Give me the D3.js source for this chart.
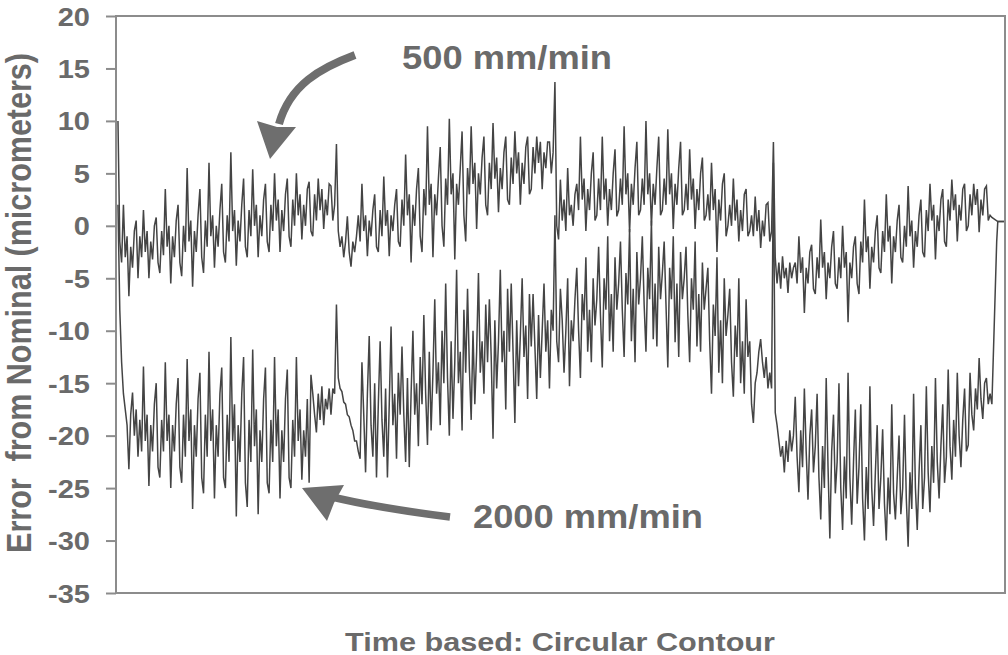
<!DOCTYPE html>
<html>
<head>
<meta charset="utf-8">
<script src="https://cdn.jsdelivr.net/npm/d3@7"></script>
<style>
  body { margin: 0; background: #fff; }
  svg { display: block; font-family: 'Liberation Sans', Arial, sans-serif; font-weight: bold; }
</style>
</head>
<body>
<svg class="contour-svg" width="1008" height="655"></svg>
<script>
// tick values of the error axis, micrometers
const yTicks = [20, 15, 10, 5, 0, -5, -10, -15, -20, -25, -30, -35]

// 500 mm/min, error, one array per quarter of the circle
const err500Q1 = [
  10, -1.5, -3.5, 2, -3, -1, -6.7, -2, -4, -0.5, 0.5, -5,
  -1, -3, 1.5, -2.5, -0.5, -5, -1.5, -3.2, 0, 0.8, -3.5, -4.5,
  -0.5, -2.8, 3.5, -2, 0, -5.5, -1, -3, 0.5, 2, -3.5, -4.8,
  0, -2.5, 5.5, -1.5, 0.5, -5.8, -0.5, -2.5, 1, 3.5, -3, -4.5,
  0.5, -2, 6, -1, 1, -4, 0, -2, 1.5, 4, -2.5, -3.5,
  1, -1.5, 7, -0.5, 1.5, -3.8, 0.5, -1.5, 2, 4.5, -2, -3,
  1.5, -1, 5.4, 0, 2, -3, 1, -1, 2.5, 4, -1.5, -2.5,
  2, -0.5, 5, 0.5, 2.5, -2.5, 1.5, -0.5, 3, 4.5, -1, -2,
  2.5, 0, 5, 1, 3, -1.3, 2, 0, 3.5, 4.2, -0.5, -1,
  3, 0.5, 4.5, 1.5, 3.5, -0.3, 2.5, 1, 4, 3.8, 0.5, 2]
const err500Q2 = [
  7.8, -0.5, -2, -1, -3, -1.5, 0.9, -2.5, -3.9, -1.5, -2.5, -1,
  1, -1.5, 4, -0.5, 1, -2.9, 0.5, -1, 1.5, 3, -2, -2.5,
  1.5, -1, 4.7, 0, 1.5, -2.9, 1, -0.5, 2, 3.5, -1.5, -2,
  2.5, 0, 6.8, 1, 3, -3.5, 2, 0, 3.5, 5.5, -1, -2.5,
  3.5, 1, 9.5, 2, 4, -3, 3, 1, 4.5, 7.5, 0, -2,
  4.5, 2, 10.2, 3, 5, -3.2, 4, 2, 5.5, 9, 1, -1.5,
  5.5, 3, 9.5, 4, 6, -0.3, 5, 3, 6.5, 8.5, 2, 1,
  6, 3.5, 9.8, 4.5, 6.5, 1.3, 5.5, 3.5, 7, 8.5, 2.5, 2,
  6.5, 4, 9, 5, 7, 2, 6, 4, 7.5, 8.5, 3, 3.5,
  7.5, 5, 8.5, 6, 8, 3.5, 7, 5.5, 8, 8, 5, 7]
const err500Q3 = [
  13.7, 0, -1.3, 4.4, 0.5, 2.5, -0.5, 5.5, 1, 2, 0, 3,
  4, 1.5, 8.5, 2.5, 4.5, -0.5, 3.5, 1.5, 5, 7, 0.5, 1,
  4.5, 1.5, 8.5, 2.5, 4.5, 0, 3.5, 1.5, 5, 7.3, 0.9, 1.5,
  4.5, 2, 9.5, 3, 5, -0.6, 4, 2, 5.5, 8, 1, 1.5,
  4.5, 2, 10, 3, 5, 0, 4, 2, 5.5, 8.5, 1, 1.5,
  4.5, 2, 9.2, 3, 5, -0.3, 4, 2, 5.5, 8, 1, 1.5,
  4, 1.5, 7.3, 2.5, 4.5, -0.3, 3.5, 1.5, 5, 6.5, 0.5, 1,
  3, 0.5, 6, 1.5, 3.5, -2.5, 2.5, 0.5, 4, 5, -1, 0,
  2, 0, 4.5, 0.5, 2.5, -1.5, 1.5, -0.5, 3, 3.5, -1, -0.5,
  1, -1, 2.8, -0.5, 1.5, -2.1, 0.5, -1, 2, 2.2, -1.5, -0.5]
const err500Q4 = [
  8, -3, -5.5, -3.5, -6, -2.9, -5, -4, -6.4, -3.5, -5, -4,
  -3.5, -5.5, -1, -4.5, -3, -8.3, -4, -5.5, -2.5, -1.8, -6, -6.5,
  -3, -5, 0.6, -4, -2.5, -7, -3.5, -5, -2, -0.5, -5.5, -6,
  -3, -5, 0, -4, -2.5, -9.2, -3.5, -5, -2, -1, -5.5, -6.5,
  -1.5, -3.5, 2.5, -2.5, -1, -6, -2, -3.5, -0.5, 1, -4, -4.5,
  -0.5, -2.5, 3, -1.5, 0, -5.5, -1, -2.5, 0.5, 2, -3, -3.5,
  0, -2, 3.8, -1, 0.5, -4, -0.5, -2, 1, 2.5, -2.5, -3,
  1.5, -0.5, 4, 0.5, 2, -3.2, 1, -0.5, 2.5, 3.5, -1.5, -2,
  2.5, 0.5, 4.4, 1.5, 3, -1.5, 2, 0.5, 3.5, 4, -0.5, 0,
  3, 1, 4, 2, 3.5, -0.6, 2.5, 1, 3.5, 3.8, 0.5, 1]
const err500TailTime = [4.0, 4.027, 4.06]
const err500Tail = [0.8, 0.4, 0.4]

// 2000 mm/min, same layout
const err2000Q1 = [
  2, -8, -13, -16, -17.5, -19, -23.2, -18, -15.9, -20, -17.5, -22,
  -18.5, -21.5, -13.4, -20.5, -18, -24.8, -19, -21.5, -17, -15, -23, -24,
  -18.5, -21.5, -13, -20.5, -18, -25, -19, -21.5, -17, -14.5, -23, -24.5,
  -18, -22, -12.7, -20.5, -17.5, -27, -19, -22, -16.5, -14, -24, -25.5,
  -18, -22, -12, -20.5, -17.5, -26, -19, -22, -16, -13.5, -24, -25,
  -18, -22.5, -10.6, -20.5, -17, -27.7, -19, -22.5, -16, -12.5, -24.5, -26.8,
  -18.5, -22.5, -11.8, -21, -17.5, -27.5, -19.5, -22.5, -16.5, -13.5, -24.5, -25.5,
  -18.5, -22.5, -12.5, -21, -17.5, -26, -19.5, -22.5, -16.5, -13.7, -24, -25,
  -18.5, -22, -12.5, -20.5, -17.5, -24.2, -19.5, -22, -16.5, -24.5, -14.2, -16,
  -18, -19.7, -16, -18.5, -15.3, -19, -16.5, -17.5, -15.5, -18, -15.5, -16]
const err2000Q2 = [
  -7.5, -14.5, -15.5, -15.8, -16.8, -17, -18, -18.2, -19, -19.5, -20.5, -20.5,
  -21.5, -22.2, -13, -18, -23.5, -16, -10.5, -19, -22, -15, -24, -17,
  -11, -18.5, -22, -15.5, -24, -17, -9.6, -19, -16, -22.2, -14, -18,
  -11.5, -18, -22.5, -14.5, -23, -16, -10, -18, -15, -21, -12.5, -17,
  -8.5, -16, -20.9, -12, -19.5, -14, -7, -16, -13, -19, -10, -15,
  -5.5, -14.5, -20, -11, -18.4, -13, -4.2, -15, -12, -19.5, -8, -14,
  -6, -13.5, -18.5, -10, -17, -12, -4.5, -14, -11, -16, -7.5, -13,
  -7, -12.5, -20.3, -9, -15.5, -11, -4.2, -13, -10, -17.5, -6, -12,
  -5.5, -12, -18.8, -9, -15.3, -10.5, -5, -12.5, -9.5, -16.5, -6.5, -11.5,
  -6.5, -11.5, -16.5, -8.5, -14.5, -10, -5.5, -12, -9, -15.5, -8, -10]
const err2000Q3 = [
  1, -11, -13, -6, -9, -14, -10, -5, -15.3, -9, -11, -7,
  -4, -10, -14.5, -6.5, -9, -3, -12, -8, -13, -5, -9.5, -7,
  -2, -8.5, -13.5, -5, -8, -1, -11, -6.5, -12, -3, -8, -5.5,
  -1.5, -8, -12.5, -4.5, -7.5, -0.3, -11, -6, -13, -2.5, -7.5, -5,
  -1, -7.5, -12, -4, -7, 0.5, -10.8, -5.5, -11.5, -2, -7, -4.5,
  -1.5, -7.5, -13.5, -4, -7, -1, -11.1, -5.5, -12.5, -2.5, -7, -5,
  -2, -8.5, -13, -5, -8, -1.5, -11.5, -6.5, -12, -3.5, -8, -6,
  -4, -11, -16, -7.5, -10.5, -3, -14, -9, -15, -5, -10.5, -8.5,
  -6, -13, -16.3, -9.5, -12.5, -5, -15, -11, -16, -7, -12.5, -11,
  -17, -18.8, -15, -14, -12, -10.8, -13, -14.5, -12.5, -15.5, -14, -15.5]
const err2000Q4 = [
  6, -17.8, -19, -20.5, -22, -21, -23.5, -20.5, -22.5, -19.5, -21.5, -20,
  -16.3, -22, -25.4, -19.5, -23, -15.5, -21.5, -26.1, -20, -17.5, -23.5, -21,
  -16, -24, -28, -21, -25, -14.5, -23, -29.8, -21.5, -18, -25.5, -22.5,
  -15, -25, -29, -22, -26, -14, -24, -28.5, -22.5, -17.5, -26.5, -23,
  -17, -26, -30, -23, -27, -15.3, -25, -28.6, -23.5, -19, -27, -24,
  -19.4, -26.5, -30, -24, -27.5, -17, -25.5, -28, -24, -20, -27.5, -25,
  -18, -26, -30.6, -23.5, -27, -16, -25, -29, -23.5, -19, -27, -24,
  -15.3, -23.5, -27.3, -21, -24.5, -14.5, -22.5, -26, -21, -17, -24.5, -22,
  -13.7, -21, -24.2, -18.5, -22, -14, -20, -23, -18.5, -15.5, -21.5, -20.9,
  -14, -18, -19.5, -15.5, -17.5, -12.6, -16.5, -18.4, -15, -14.5, -17, -16]
const err2000TailTime = [4.0, 4.022, 4.027, 4.06]
const err2000Tail = [-17, -1.5, 0.4, 0.4]

const textColor = '#6a6a6a'
const frameColor = '#8c8c8c'
const traceColor = '#444'

const svg = d3.select('.contour-svg')

// time runs in quarter turns of the circle
const x = d3.scaleLinear().domain([-0.009, 4.06]).range([116, 1005])
const y = d3.scaleLinear().domain([-35, 20]).range([593, 16])

/**
 * Flattens the quarter arrays of one feed rate into time / error points.
 * The samples of every quarter are evenly spaced in time.
 */
function toPoints (quarters, tailTime, tail) {
  const pts = []
  quarters.forEach((vals, q) => {
    vals.forEach((v, i) => pts.push({ t: q + i / vals.length, v: v }))
  })
  tail.forEach((v, i) => pts.push({ t: tailTime[i], v: v }))
  return pts
}

const series = [
  toPoints([err2000Q1, err2000Q2, err2000Q3, err2000Q4], err2000TailTime, err2000Tail),
  toPoints([err500Q1, err500Q2, err500Q3, err500Q4], err500TailTime, err500Tail)
]

const line = d3.line()
  .x(d => x(d.t))
  .y(d => y(d.v))

svg.selectAll('.trace')
  .data(series)
  .enter()
  .append('path')
  .attr('class', 'trace')
  .attr('d', line)
  .attr('fill', 'none')
  .attr('stroke', traceColor)
  .attr('stroke-width', 1.5)

// plot frame
svg.append('rect')
  .attr('x', x.range()[0])
  .attr('y', y.range()[1])
  .attr('width', x.range()[1] - x.range()[0])
  .attr('height', y.range()[0] - y.range()[1])
  .attr('fill', 'none')
  .attr('stroke', frameColor)
  .attr('stroke-width', 2)

const yAxis = svg.append('g')
  .attr('class', 'y axis')
  .attr('transform', `translate(${x.range()[0]},0)`)
  .call(d3.axisLeft(y).tickValues(yTicks).tickSize(10).tickFormat(d3.format('d')))

yAxis.select('.domain').remove()
yAxis.selectAll('.tick line')
  .attr('stroke', frameColor)
  .attr('stroke-width', 2)
yAxis.selectAll('.tick text')
  .attr('x', 0)
  .attr('dy', '0.36em')
  .attr('transform', 'translate(-26,0) scale(1.16,1)')
  .attr('fill', textColor)
  .style('font-size', '25px')
  .style('font-family', "'Liberation Sans', Arial, sans-serif")
  .style('font-weight', 'bold')
  .text(d => d < 0 ? '-' + Math.abs(d) : d)

svg.append('text')
  .attr('transform', 'translate(31,303) scale(1.12,1) rotate(-90)')
  .attr('text-anchor', 'middle')
  .attr('fill', textColor)
  .style('font-size', '30.5px')
  .style('white-space', 'pre')
  .text('Error  from Nominal (micrometers)')

svg.append('text')
  .attr('x', 345)
  .attr('y', 651)
  .attr('textLength', 430)
  .attr('lengthAdjust', 'spacingAndGlyphs')
  .attr('fill', textColor)
  .style('font-size', '25px')
  .text('Time based: Circular Contour')

// feed rate labels with their arrows
const arrowColor = '#6e6e6e'

svg.append('text')
  .attr('x', 402)
  .attr('y', 69)
  .attr('textLength', 210)
  .attr('lengthAdjust', 'spacingAndGlyphs')
  .attr('fill', textColor)
  .style('font-size', '33px')
  .text('500 mm/min')

svg.append('text')
  .attr('x', 473)
  .attr('y', 528)
  .attr('textLength', 230)
  .attr('lengthAdjust', 'spacingAndGlyphs')
  .attr('fill', textColor)
  .style('font-size', '34px')
  .text('2000 mm/min')

svg.append('path')
  .attr('d', 'M355,55 C320,68 290,85 279,124')
  .attr('fill', 'none')
  .attr('stroke', arrowColor)
  .attr('stroke-width', 8)
svg.append('path')
  .attr('d', 'M257,121 L277,127 L296,127 L270,159 Z')
  .attr('fill', arrowColor)

svg.append('path')
  .attr('d', 'M450,517 C410,512 370,506 332,497')
  .attr('fill', 'none')
  .attr('stroke', arrowColor)
  .attr('stroke-width', 7.5)
svg.append('path')
  .attr('d', 'M302,488 L344,485 L334,503 L327,521 Z')
  .attr('fill', arrowColor)
</script>
</body>
</html>
